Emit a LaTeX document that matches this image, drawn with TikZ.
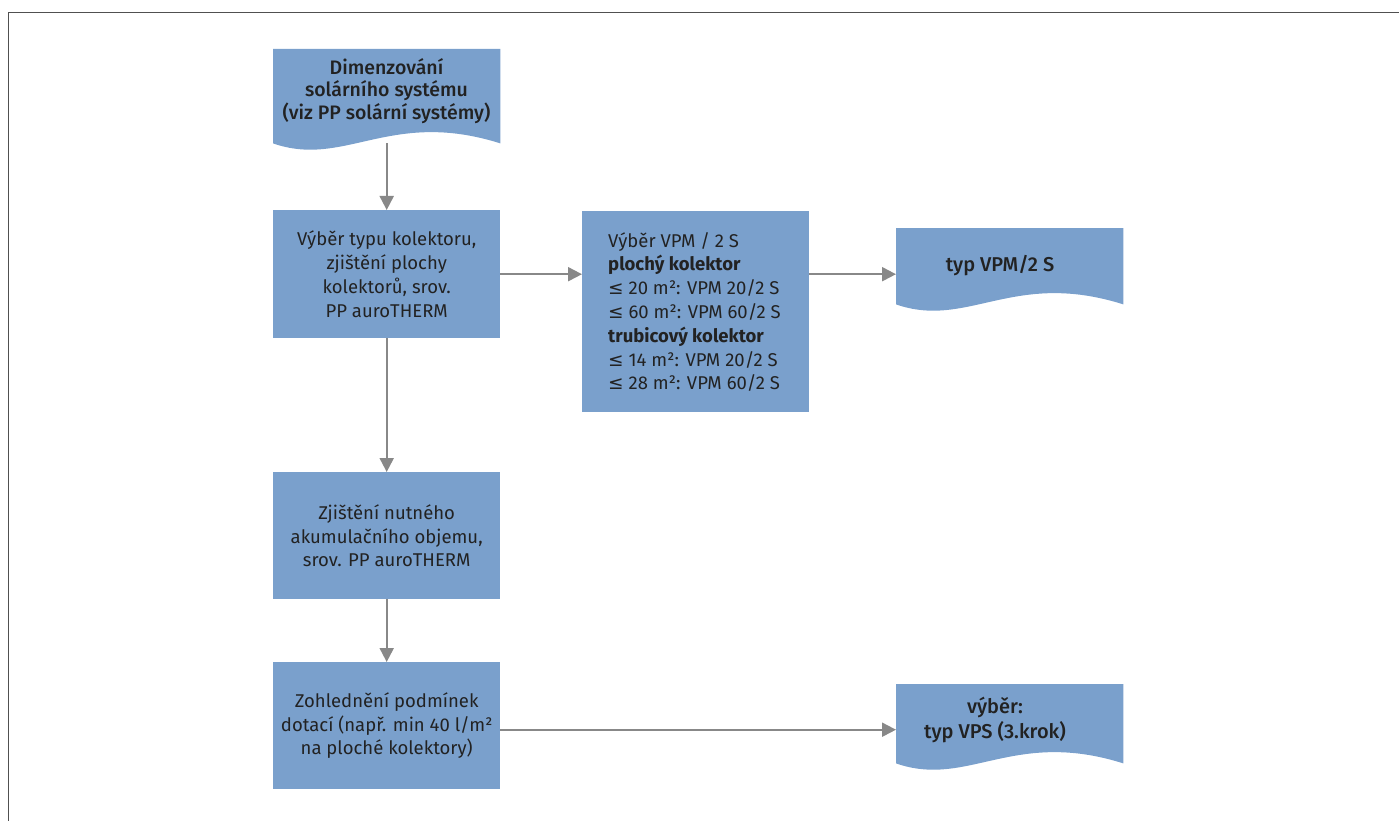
\documentclass[tikz,border=0pt]{standalone}
\usepackage{fontspec}
\setmainfont{Fira Sans}
\newfontfamily\symf{DejaVu Sans}
\newfontfamily\medf{Fira Sans}[UprightFont={* Medium}]
\usetikzlibrary{arrows.meta,calc,backgrounds}
\definecolor{boxblue}{RGB}{122,160,204}
\definecolor{arrgray}{RGB}{136,136,136}
\definecolor{framegray}{RGB}{80,80,80}
\definecolor{txt}{RGB}{34,34,34}
\newcommand\lee{{\symf ≤}}
\newcommand\docfill[1]{\fill[boxblue] (#1.north west) -- (#1.north east) -- (#1.south east)
  .. controls ($(#1.south west)+(117,-35)$) and ($(#1.south west)+(72,25)$) .. (#1.south west) -- cycle;}
\begin{document}
\begin{tikzpicture}[x=1pt,y=-1pt,
  txtf/.style={text=txt, font=\fontsize{18.5}{23.8}\selectfont},
  box/.style={txtf, fill=boxblue, minimum width=227pt, inner sep=0pt, anchor=north west, align=center},
  docbox/.style={minimum width=227pt, inner sep=0pt, anchor=north west},
  doctext/.style={text=txt, align=center, inner sep=0pt},
  arr/.style={draw=arrgray, line width=2pt, -{Triangle[length=14pt,width=14pt]}}
]
\useasboundingbox (0,0) rectangle (1399,821);
\draw[framegray, line width=1.5pt] (1399,12.5) -- (8.5,12.5) -- (8.5,821);

% document-shaped boxes (outlines as nodes)
\node[docbox, minimum height=94pt] (b1) at (273,49) {};
\node[docbox, minimum height=76pt] (b4) at (896,228) {};
\node[docbox, minimum height=79pt] (b7) at (896,684) {};
\docfill{b1}
\docfill{b4}
\docfill{b7}
\node[doctext, font=\medf\fontsize{19.5}{22.7}\selectfont] (b1t) at (386.5,91) {Dimenzování\\solárního systému\\(viz PP solární systémy)};
\node[doctext, font=\medf\fontsize{20}{25}\selectfont] (b4t) at (1000,266) {typ VPM/2 S};
\node[doctext, font=\medf\fontsize{20}{25}\selectfont] (b7t) at (995,720) {výběr:\\typ VPS (3.krok)};

% rectangular boxes
\node[box, minimum height=128pt] (b2) at (273,210) {Výběr typu kolektoru,\\zjištění plochy\\kolektorů, srov.\\PP auroTHERM};
\node[box, minimum height=201pt] (b3) at (582,211) {};
\node[txtf, align=left, anchor=west, inner sep=0pt] (b3t) at (608,312)
  {Výběr VPM / 2 S\\\textbf{plochý kolektor}\\\lee{} 20 m²: VPM 20/2 S\\\lee{} 60 m²: VPM 60/2 S\\\textbf{trubicový kolektor}\\\lee{} 14 m²: VPM 20/2 S\\\lee{} 28 m²: VPM 60/2 S};
\node[box, minimum height=127pt] (b5) at (273,472) {Zjištění nutného\\akumulačního objemu,\\srov. PP auroTHERM};
\node[box, minimum height=127pt] (b6) at (273,662) {Zohlednění podmínek\\dotací (např. min 40 l/m²\\na ploché kolektory)};

% connectors
\begin{pgfonlayer}{background}
\draw[arr] (b1.south) -- (b2.north);
\draw[arr] (b2.south) -- (b5.north);
\draw[arr] (b5.south) -- (b6.north);
\draw[arr] (b2.east) -- (b2.east -| b3.west);
\draw[arr] (b2.east -| b3.east) -- (b2.east -| b4.west);
\coordinate (b6a) at ($(b6.east)+(0,4)$);
\draw[arr] (b6a) -- (b6a -| b7.west);
\end{pgfonlayer}
\end{tikzpicture}
\end{document}
